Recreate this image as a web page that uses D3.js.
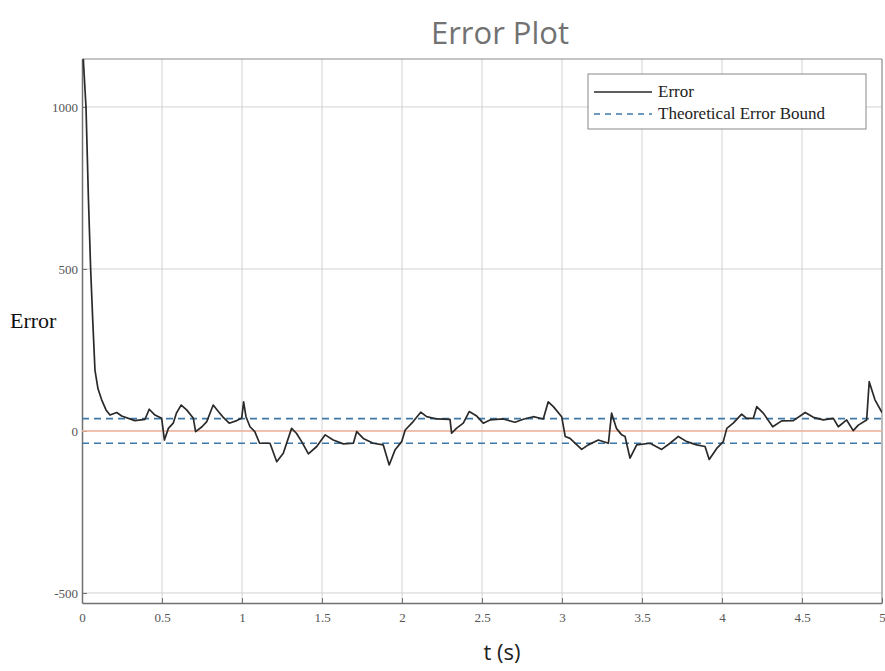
<!DOCTYPE html>
<html><head><meta charset="utf-8">
<script src="https://cdn.jsdelivr.net/npm/d3@7"></script>
<style>body{margin:0;background:#fff}svg{display:block}</style>
</head><body>
<svg id="c" width="885" height="671"></svg>
<script>
const title = "Error Plot";
const xLabel = "t (s)";
const yLabel = "Error";
const xTicks = [0, 0.5, 1, 1.5, 2, 2.5, 3, 3.5, 4, 4.5, 5];
const yTicks = [-500, 0, 500, 1000];
const boundValue = 38;
const errT = [0,0.01,0.025,0.04,0.054,0.067,0.081,0.1,0.123,0.15,0.175,0.217,0.248,0.33,0.394,0.42,0.456,0.498,0.515,0.54,0.57,0.59,0.62,0.654,0.696,0.71,0.75,0.78,0.82,0.852,0.883,0.92,0.967,0.998,1.01,1.025,1.05,1.08,1.11,1.175,1.217,1.258,1.31,1.34,1.373,1.415,1.467,1.52,1.57,1.633,1.696,1.717,1.758,1.82,1.883,1.92,1.956,1.998,2.02,2.07,2.117,2.154,2.217,2.3,2.31,2.34,2.383,2.42,2.467,2.508,2.55,2.633,2.706,2.758,2.82,2.883,2.914,2.946,2.998,3.02,3.05,3.123,3.164,3.227,3.29,3.31,3.34,3.373,3.394,3.425,3.467,3.55,3.623,3.675,3.727,3.78,3.842,3.894,3.92,3.967,4.008,4.03,4.07,4.123,4.154,4.196,4.217,4.258,4.317,4.373,4.446,4.52,4.571,4.633,4.696,4.727,4.779,4.82,4.852,4.904,4.92,4.956,5.0];
const errV = [1250,1130,1000,720,500,343,188,130,96,65,49,57,46,32,36,67,49,39,-28,8,24,55,80,65,39,-2,13,29,80,60,42,24,32,39,90,44,13,-2,-38,-38,-95,-69,8,-7,-33,-71,-48,-12,-28,-40,-38,-2,-23,-38,-43,-105,-59,-33,3,29,58,44,37,36,-7,8,24,60,46,24,34,37,27,36,44,37,90,75,44,-17,-23,-57,-43,-28,-38,55,8,-12,-17,-84,-43,-38,-57,-38,-17,-33,-43,-48,-88,-54,-33,8,24,52,39,39,75,55,13,31,32,57,42,34,39,13,34,1,18,34,152,96,57];
const legendItems = ["Error", "Theoretical Error Bound"];

const svg = d3.select("#c");
const m = {l:82, r:882, t:59, b:603};
const x = d3.scaleLinear().domain([0,5]).range([m.l, m.r]);
const y = d3.scaleLinear().domain([-531,1148]).range([m.b, m.t]);

// grid
svg.append("g").selectAll("line").data(xTicks.slice(1)).join("line")
  .attr("x1", d=>x(d)).attr("x2", d=>x(d)).attr("y1", m.t).attr("y2", m.b)
  .attr("stroke", "#d2d2d2").attr("stroke-width", 1);
svg.append("g").selectAll("line").data(yTicks).join("line")
  .attr("x1", m.l).attr("x2", m.r).attr("y1", d=>y(d)).attr("y2", d=>y(d))
  .attr("stroke", "#d2d2d2").attr("stroke-width", 1);

// frame
svg.append("line").attr("x1", m.l).attr("x2", m.r).attr("y1", m.t).attr("y2", m.t).attr("stroke", "#8a8a8a");
svg.append("line").attr("x1", m.r).attr("x2", m.r).attr("y1", m.t).attr("y2", m.b).attr("stroke", "#8a8a8a");

// axes
const hyphen = f => d => f(d).replace("\u2212", "-");
const xAxis = d3.axisBottom(x).tickValues(xTicks).tickSizeInner(-5).tickSizeOuter(0).tickPadding(10).tickFormat(hyphen(d3.format("~g")));
const gx = svg.append("g").attr("transform", `translate(0,${m.b})`).call(xAxis);
const yAxis = d3.axisLeft(y).tickValues(yTicks).tickSizeInner(-5).tickSizeOuter(0).tickPadding(4).tickFormat(hyphen(d3.format("d")));
const gy = svg.append("g").attr("transform", `translate(${m.l},0)`).call(yAxis);
[gx, gy].forEach(g => {
  g.select(".domain").attr("stroke", "#707070").attr("stroke-width", 1.5);
  g.selectAll(".tick line").attr("stroke", "#707070");
  g.selectAll(".tick text").attr("font-family", "'Liberation Serif','Times New Roman',serif")
    .attr("font-size", 13).attr("fill", "#555");
});

// clip
svg.append("clipPath").attr("id", "clip").append("rect")
  .attr("x", m.l).attr("y", m.t).attr("width", m.r - m.l).attr("height", m.b - m.t);
const plot = svg.append("g").attr("clip-path", "url(#clip)");

// zero line
plot.append("line").attr("x1", x(0)).attr("x2", x(5)).attr("y1", y(0)).attr("y2", y(0))
  .attr("stroke", "#f0b39a").attr("stroke-width", 1.5);

// bounds
[boundValue, -boundValue].forEach(b => {
  plot.append("line").attr("x1", x(0)).attr("x2", x(5)).attr("y1", y(b)).attr("y2", y(b))
    .attr("stroke", "#3d78a8").attr("stroke-width", 1.6).attr("stroke-dasharray", "7,5");
});

// error line
const pts = errT.map((t,i)=>[t, errV[i]]);
plot.append("path").datum(pts)
  .attr("d", d3.line().x(d=>x(d[0])).y(d=>y(d[1])))
  .attr("fill", "none").attr("stroke", "#2a2a2a").attr("stroke-width", 1.7).attr("stroke-linejoin", "round");

// legend
const lg = svg.append("g");
lg.append("rect").attr("x", 588).attr("y", 74).attr("width", 278).attr("height", 55)
  .attr("fill", "#fff").attr("stroke", "#888").attr("stroke-width", 1);
lg.append("line").attr("x1", 594).attr("x2", 652).attr("y1", 92).attr("y2", 92).attr("stroke", "#2a2a2a").attr("stroke-width", 1.6);
lg.append("line").attr("x1", 594).attr("x2", 652).attr("y1", 114).attr("y2", 114).attr("stroke", "#3d78a8").attr("stroke-width", 1.6).attr("stroke-dasharray", "6,5");
lg.selectAll("text").data(legendItems).join("text")
  .attr("x", 658).attr("y", (d,i)=>97 + i*22)
  .attr("font-family", "'Liberation Serif','Times New Roman',serif").attr("font-size", 17).attr("fill", "#222")
  .text(d=>d);

// title and labels
svg.append("text").attr("x", 500).attr("y", 44).attr("text-anchor", "middle")
  .attr("font-family", "'Open Sans','Noto Sans',sans-serif").attr("font-size", 31).attr("fill", "#727272").text(title);
svg.append("text").attr("x", 10).attr("y", 328)
  .attr("font-family", "'Liberation Serif','Times New Roman',serif").attr("font-size", 22).attr("fill", "#111").text(yLabel);
svg.append("text").attr("x", 502).attr("y", 660).attr("text-anchor", "middle")
  .attr("font-family", "'Open Sans','Noto Sans',sans-serif").attr("font-size", 22).attr("fill", "#222").text(xLabel);
</script>
</body></html>
